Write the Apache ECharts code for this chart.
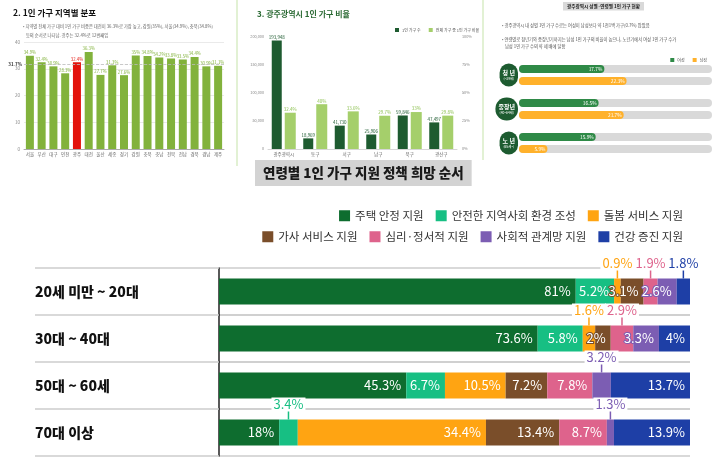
<!DOCTYPE html>
<html><head><meta charset="utf-8">
<script src="https://cdn.jsdelivr.net/npm/echarts@6/dist/echarts.min.js"></script>
<style>html,body{margin:0;padding:0;background:#fff}#c{width:720px;height:464px}</style>
</head><body><div id="c"></div><script>
const FONT = '"Noto Sans CJK KR", "Noto Sans", sans-serif';

// --- Panel "2. 1인 가구 지역별 분포" ---
const regions = ['서울','부산','대구','인천','광주','대전','울산','세종','경기','강원','충북','충남','전북','전남','경북','경남','제주'];
const regionShare = [34.9,32.4,30.9,28.3,32.4,36.3,27.7,31.3,27.6,35,34.8,34.2,33.8,33.5,34.4,30.9,31.1];
const regionAverage = 31.7;
const highlightRegion = '광주';

// --- Panel "3. 광주광역시 1인 가구 비율" ---
const districts = ['광주광역시','동구','서구','남구','북구','광산구'];
const singleHouseholds = [193948,18969,41730,25906,59846,47497];
const singleRatio = [32.4,40,33.6,29.7,33,29.8];

// --- Panel "광주광역시 성별·연령별 1인 가구 현황" ---
const lifeStages = ['청 년','중장년','노 년'];
const lifeStageAges = ['(~39세)','(40~64세)','(65세~)'];
const femaleShare = [17.7,16.5,15.9];
const maleShare = [22.3,21.7,5.9];

// --- Main chart ---
const ageGroups = ['20세 미만 ~ 20대','30대 ~ 40대','50대 ~ 60세','70대 이상'];
const policies = ['주택 안정 지원','안전한 지역사회 환경 조성','돌봄 서비스 지원','가사 서비스 지원','심리·정서적 지원','사회적 관계망 지원','건강 증진 지원'];
const housing   = [81, 73.6, 45.3, 18];
const safety    = [5.2, 5.8, 6.7, 3.4];
const care      = [0.9, 1.6, 10.5, 34.4];
const housework = [3.1, 2, 7.2, 13.4];
const mental    = [1.9, 2.9, 7.8, 8.7];
const social    = [2.6, 3.3, 3.2, 1.3];
const health    = [1.8, 4, 13.7, 13.9];
// labels drawn above the bar (row-series)
const calloutKeys = ['0-2','0-4','0-6','1-2','1-4','2-5','3-1','3-5'];
// value where each row's (truncated) axis starts
const rowAxisStart = [32.6, 32.6, 12.9, 7];

const mainValues = [housing, safety, care, housework, mental, social, health];
const mainColors = ['#0e6d2f','#17bf83','#ffa412','#7a4e2a','#de638c','#7c5db3','#1e3fa6'];
const rowTotals = ageGroups.map((_, r) => mainValues.reduce((s, arr) => s + arr[r], 0));

const ROW_TOP = 268, ROW_H = 47;

const mainSeries = [];
ageGroups.forEach((age, r) => {
  policies.forEach((name, si) => {
    const v = mainValues[si][r];
    const item = {value: v};
    if (calloutKeys.includes(r + '-' + si)) {
      item.label = {
        position: 'top', distance: 0, textBorderWidth: 0,
        formatter: () => '{t|' + v + '%}\n{l| }',
        rich: {
          t: {color: mainColors[si], fontSize: 13, fontFamily: FONT, backgroundColor: '#fff',
              padding: [0, 2], lineHeight: 15, textBorderWidth: 0},
          l: {width: 1.5, height: 8, lineHeight: 8, fontSize: 1, backgroundColor: mainColors[si], textBorderWidth: 0}
        }
      };
    }
    mainSeries.push({
      name, type: 'bar', stack: 'row' + r, xAxisIndex: 3 + r, yAxisIndex: 4 + r, barWidth: 26,
      itemStyle: {color: mainColors[si]},
      emphasis: {disabled: true},
      label: {show: true, position: 'insideRight', distance: 5, color: '#fff', fontSize: 13,
        fontFamily: FONT, textBorderColor: mainColors[si], textBorderWidth: 2,
        formatter: () => v + '%'},
      data: [item]
    });
  });
});

const tiny = {fontFamily: FONT, fontSize: 4.5, color: '#666'};

const option = {
  animation: false,
  backgroundColor: '#fff',
  title: [
    {text: '2. 1인 가구 지역별 분포', left: 8, top: 4, textStyle: {fontFamily: FONT, fontSize: 8.5, fontWeight: 'bold', color: '#111'}},
    {text: '• 지역별 전체 가구 대비 1인 가구 비중은 대전이 36.3%로 가장 높고, 강원(35%), 서울(34.9%), 충북(34.8%)\n   등의 순서로 나타남. 광주는 32.4%로 12번째임', left: 18, top: 17,
      textStyle: {fontFamily: FONT, fontSize: 4.3, fontWeight: 'normal', color: '#666', lineHeight: 9}},
    {text: '3. 광주광역시 1인 가구 비율', left: 252, top: 5, textStyle: {fontFamily: FONT, fontSize: 8, fontWeight: 'bold', color: '#2b6a34'}},
    {text: '광주광역시 성별·연령별 1인 가구 현황', left: 563, top: 2, padding: [2, 4],
      backgroundColor: '#d9d9d9', textStyle: {fontFamily: FONT, fontSize: 4.6, fontWeight: 'bold', color: '#222'}},
    {text: '• 광주광역시 내 성별 1인 가구 수로는 여성이 남성보다 약 1천1백 가구(0.7%) 많았음\n\n• 연령별로 청년기와 중장년기까지는 남성 1인 가구의 비율이 높으나, 노년기에서 여성 1인 가구 수가\n   남성 1인 가구 수의 약 세 배에 달함', left: 497, top: 17,
      textStyle: {fontFamily: FONT, fontSize: 4.3, fontWeight: 'normal', color: '#555', lineHeight: 7}},
    {text: '연령별 1인 가구 지원 정책 희망 순서', left: 255, top: 160, padding: [5, 8],
      backgroundColor: '#d3d3d3', textStyle: {fontFamily: FONT, fontSize: 13.5, fontWeight: 900, color: '#1a1a1a', lineHeight: 16}}
  ],
  graphic: [
    {type: 'line', shape: {x1: 237, y1: 0, x2: 237, y2: 166}, style: {stroke: '#d9ecc6', lineWidth: 1.5}},
    {type: 'line', shape: {x1: 483, y1: 0, x2: 483, y2: 160}, style: {stroke: '#d9ecc6', lineWidth: 1.5}}
  ],
  legend: [
    {data: policies.slice(0, 3), right: 32, top: 205, icon: 'rect', itemWidth: 11, itemHeight: 11, itemGap: 12,
      textStyle: {fontFamily: FONT, fontSize: 11.5, color: '#333'}},
    {data: policies.slice(3), right: 32, top: 226, icon: 'rect', itemWidth: 11, itemHeight: 11, itemGap: 12,
      textStyle: {fontFamily: FONT, fontSize: 11.5, color: '#333'}},
    {data: ['1인 가구 수', '전체 가구 중 1인 가구 비율'], left: 390, top: 23, icon: 'rect', itemWidth: 4, itemHeight: 4, itemGap: 8,
      textStyle: {fontFamily: FONT, fontSize: 4, color: '#555', padding: [0, 0, 0, -2]}},
    {data: ['여성', '남성'], right: 8, top: 53, orient: 'horizontal', icon: 'rect', itemWidth: 4, itemHeight: 4, itemGap: 8,
      textStyle: {fontFamily: FONT, fontSize: 4, color: '#555', padding: [0, 0, 0, -2]}}
  ],
  grid: [
    {left: 24, right: 496, top: 42, bottom: 315, outerBoundsMode: 'none'},
    {left: 268, right: 263, top: 37, bottom: 315, outerBoundsMode: 'none'},
    {left: 519, right: 8, top: 58, bottom: 304, outerBoundsMode: 'none'},
    ...ageGroups.map((_, r) => ({left: 219, right: 30, top: ROW_TOP + ROW_H * r, height: ROW_H, outerBoundsMode: 'none'}))
  ],
  xAxis: [
    {gridIndex: 0, type: 'category', data: regions, axisTick: {show: false},
      axisLine: {lineStyle: {color: '#999', width: 0.8}}, axisLabel: {...tiny, margin: 3, interval: 0}},
    {gridIndex: 1, type: 'category', data: districts, axisTick: {show: false},
      axisLine: {lineStyle: {color: '#bbb', width: 0.6}}, axisLabel: {...tiny, margin: 3, interval: 0}},
    {gridIndex: 2, type: 'value', min: 0, max: 40, show: false},
    ...ageGroups.map((_, r) => ({gridIndex: 3 + r, type: 'value', min: rowAxisStart[r], max: rowTotals[r], show: false}))
  ],
  yAxis: [
    {gridIndex: 0, type: 'value', min: 0, max: 40, interval: 10, axisLabel: {...tiny, color: '#888', margin: 4},
      splitLine: {lineStyle: {color: '#e4e4e4', width: 0.8}}, axisLine: {show: false}},
    {gridIndex: 1, type: 'value', min: 0, max: 200000, interval: 50000, axisLabel: {...tiny, fontSize: 3.8, color: '#888', margin: 4},
      splitLine: {show: false}, axisLine: {show: false}},
    {gridIndex: 1, type: 'value', min: 0, max: 100, interval: 25, position: 'right',
      axisLabel: {...tiny, fontSize: 3.8, color: '#888', margin: 5, formatter: '{value}%'},
      splitLine: {show: false}, axisLine: {show: false}},
    {gridIndex: 2, type: 'category', inverse: true, data: lifeStages, axisLine: {show: false}, axisTick: {show: false},
      axisLabel: {margin: 1, align: 'right', backgroundColor: '#1d5b30', borderRadius: 11, padding: [5, 3],
        formatter: (v, i) => '{a|' + v + '}\n{b|' + lifeStageAges[i] + '}',
        rich: {a: {fontFamily: FONT, fontSize: 6, fontWeight: 'bold', color: '#fff', lineHeight: 8, align: 'center'},
               b: {fontFamily: FONT, fontSize: 3.3, color: '#fff', lineHeight: 5, align: 'center'}}}},
    ...ageGroups.map((age, r) => ({gridIndex: 3 + r, type: 'category', data: [age],
      axisLine: {show: true, lineStyle: {color: '#222', width: 1.5}},
      axisTick: {show: true, length: 184, lineStyle: {color: '#cdcdcd', width: 1.5}},
      axisLabel: {align: 'left', margin: 184, fontFamily: FONT, fontSize: 14, fontWeight: 900, color: '#111'},
      splitLine: {show: true, lineStyle: {color: '#cdcdcd', width: 1.5}}}))
  ],
  series: [
    {type: 'bar', xAxisIndex: 0, yAxisIndex: 0, barWidth: 8, emphasis: {disabled: true},
      itemStyle: {color: '#82b23c'},
      label: {show: true, position: 'top', distance: 1, fontFamily: FONT, fontSize: 4.3, color: '#82b23c', formatter: p => p.value + '%'},
      data: regionShare.map((v, i) => regions[i] === highlightRegion
        ? {value: v, itemStyle: {color: '#e3120b'}, label: {color: '#e3120b'}} : v),
      markLine: {symbol: 'none', silent: true, data: [{yAxis: regionAverage}],
        lineStyle: {color: '#bbb', type: 'dashed', width: 0.8},
        label: {position: 'start', formatter: regionAverage + '%', fontFamily: FONT, fontSize: 4.5, fontWeight: 'bold', color: '#333', distance: 2}}},
    {name: '1인 가구 수', type: 'bar', xAxisIndex: 1, yAxisIndex: 1, barWidth: 10, barGap: '30%', emphasis: {disabled: true},
      itemStyle: {color: '#1e5b30'},
      label: {show: true, position: 'top', distance: 1, fontFamily: FONT, fontSize: 4.5, color: '#1e5b30',
        formatter: p => p.value.toLocaleString('en-US')},
      data: singleHouseholds},
    {name: '전체 가구 중 1인 가구 비율', type: 'bar', xAxisIndex: 1, yAxisIndex: 2, barWidth: 11, emphasis: {disabled: true},
      itemStyle: {color: '#a5cf6b'},
      label: {show: true, position: 'top', distance: 1, fontFamily: FONT, fontSize: 4.5, color: '#8fc255', formatter: p => p.value + '%'},
      data: singleRatio},
    {name: '여성', type: 'bar', xAxisIndex: 2, yAxisIndex: 3, barWidth: 8, barGap: '50%', emphasis: {disabled: true},
      itemStyle: {color: '#2f8a47', borderRadius: 4},
      showBackground: true, backgroundStyle: {color: '#d9d9d9', borderRadius: 4},
      label: {show: true, position: 'insideRight', distance: 2, fontFamily: FONT, fontSize: 4.8, color: '#fff', formatter: p => p.value + '%'},
      data: femaleShare},
    {name: '남성', type: 'bar', xAxisIndex: 2, yAxisIndex: 3, barWidth: 8, emphasis: {disabled: true},
      itemStyle: {color: '#ffb12b', borderRadius: 4},
      showBackground: true, backgroundStyle: {color: '#d9d9d9', borderRadius: 4},
      label: {show: true, position: 'insideRight', distance: 2, fontFamily: FONT, fontSize: 4.8, color: '#fff', formatter: p => p.value + '%'},
      data: maleShare},
    ...mainSeries
  ]
};
const chart = echarts.init(document.getElementById('c'), null, {renderer: 'canvas'});
chart.setOption(option);
</script></body></html>
